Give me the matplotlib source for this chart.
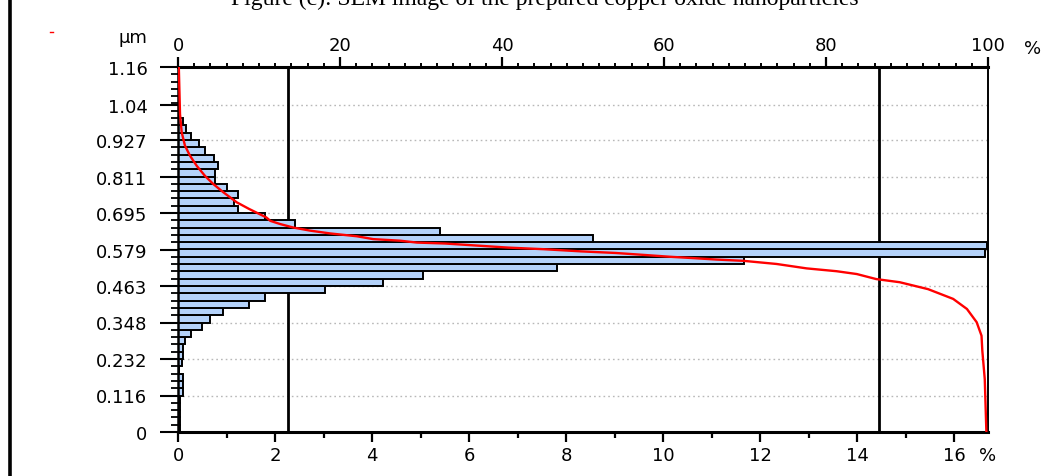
import numpy as np
import matplotlib
matplotlib.use('Agg')
import matplotlib.pyplot as plt
from matplotlib.ticker import FixedLocator, MultipleLocator
from matplotlib.patches import Rectangle
from matplotlib.lines import Line2D

plt.rcParams['font.family'] = ['DejaVu Sans']

# histogram: % per size class (bin width 0.0232 um), from 0 um upwards
bin_width = 0.0232
freq = [0.04, 0.04, 0.04, 0.04, 0.04, 0.10, 0.10, 0.10, 0.03, 0.08,
        0.10, 0.10, 0.14, 0.27, 0.50, 0.66, 0.93, 1.46, 1.79, 3.03,
        4.22, 5.06, 7.82, 11.67, 16.64, 16.67, 8.56, 5.40, 2.41, 1.79,
        1.23, 1.16, 1.24, 1.00, 0.77, 0.77, 0.83, 0.75, 0.56, 0.44,
        0.27, 0.16, 0.10, 0.05]

# cumulative curve (% oversize, top axis)
cum_size = [1.160, 1.010, 0.952, 0.910, 0.878, 0.846, 0.814, 0.788, 0.762, 0.730,
            0.709, 0.682, 0.671, 0.661, 0.650, 0.640, 0.631, 0.622, 0.613, 0.608,
            0.602, 0.599, 0.594, 0.586, 0.581, 0.574, 0.569, 0.563, 0.557, 0.552,
            0.548, 0.544, 0.534, 0.520, 0.511, 0.502, 0.486, 0.476, 0.454, 0.423,
            0.391, 0.349, 0.306, 0.258, 0.168, 0.0]
cum_pct = [0.1, 0.25, 0.46, 0.86, 1.48, 2.31, 3.33, 4.36, 5.59, 7.25,
           8.77, 10.9, 11.4, 12.6, 14.2, 16.3, 18.8, 22.1, 24.1, 27.4,
           29.5, 33.0, 36.0, 40.8, 45.1, 49.8, 54.0, 57.4, 60.7, 64.0,
           66.5, 69.8, 73.9, 77.6, 81.3, 83.8, 86.2, 89.1, 92.6, 95.7,
           97.4, 98.6, 99.2, 99.3, 99.6, 99.8]

# vertical marker lines (bottom axis units)
markers = [2.27, 14.45]

ytick_pos = [0, 0.116, 0.232, 0.348, 0.463, 0.579, 0.695, 0.811, 0.927, 1.04, 1.16]
ytick_lab = ['0', '0.116', '0.232', '0.348', '0.463', '0.579', '0.695',
             '0.811', '0.927', '1.04', '1.16']
xtick_bot = [0, 2, 4, 6, 8, 10, 12, 14, 16]
xtick_top = [0, 20, 40, 60, 80, 100]

fig = plt.figure(figsize=(10.56, 4.77), dpi=100)
ax = fig.add_axes([178/1056, 1-433/477, 810/1056, 365/477])

lower = np.arange(len(freq)) * bin_width
ax.barh(lower, freq, height=bin_width, align='edge', color='#b4d2fa',
        edgecolor='black', linewidth=1.4, zorder=2)
for m in markers:
    ax.axvline(m, color='black', lw=2.0, zorder=1.5)

ax.set_xlim(0, 16.7)
ax.set_ylim(0, 1.16)
ax.set_axisbelow(True)
ax.yaxis.set_major_locator(FixedLocator(ytick_pos))
ax.set_yticklabels(ytick_lab)
ax.yaxis.set_minor_locator(FixedLocator(np.arange(51) * bin_width))
ax.set_xticks(xtick_bot)
ax.xaxis.set_minor_locator(MultipleLocator(1))
ax.yaxis.grid(True, which='major', linestyle=(0, (1.2, 2.2)), color='#b8b8b8', lw=1.0)

ax.tick_params(axis='y', which='major', direction='out', length=13, width=1.5,
               pad=9, labelsize=13)
ax.tick_params(axis='y', which='minor', direction='out', length=5, width=1.3)
ax.tick_params(axis='x', which='major', direction='out', length=7, width=1.6,
               pad=3, labelsize=13)
ax.tick_params(axis='x', which='minor', direction='out', length=4, width=1.6)

ax.spines['top'].set_visible(False)
ax.spines['left'].set_linewidth(1.8)
ax.spines['bottom'].set_linewidth(2.2)
ax.spines['right'].set_linewidth(1.4)

ax2 = ax.twiny()
ax2.plot(cum_pct, cum_size, color='#ff0000', lw=1.7, zorder=5)
ax2.set_xlim(0, 100)
ax2.set_xticks(xtick_top)
ax2.xaxis.set_minor_locator(MultipleLocator(2))
ax2.tick_params(axis='x', which='major', direction='out', length=7, width=1.6,
                pad=2.5, labelsize=13)
ax2.tick_params(axis='x', which='minor', direction='out', length=3, width=1.4)
for s in ['bottom', 'left', 'right']:
    ax2.spines[s].set_visible(False)
ax2.spines['top'].set_linewidth(2.2)

# unit labels
ax.text(-0.038, 1.082, 'µm', transform=ax.transAxes, ha='right', va='center', fontsize=13)
ax.text(1.0, -0.063, '%', transform=ax.transAxes, ha='center', va='center', fontsize=13)
ax.text(1.0556, 1.053, '%', transform=ax.transAxes, ha='center', va='center', fontsize=13)

# outer frame and clipped caption
fig.patches.append(Rectangle((10/1056, -0.2), 1.2, 1.2 + 1 - 15/477,
                             transform=fig.transFigure, fill=False,
                             edgecolor='black', lw=2.6))
fig.text(0.516, 1 - 5/477, 'Figure (c): SEM image of the prepared copper oxide nanoparticles',
         ha='center', va='baseline', fontsize=17, family='Liberation Serif')
fig.lines.append(Line2D([50/1056, 53/1056], [1-32.5/477, 1-32.5/477],
                        transform=fig.transFigure, color='red', lw=1))

fig.savefig('out.png', dpi=100, facecolor='white')
